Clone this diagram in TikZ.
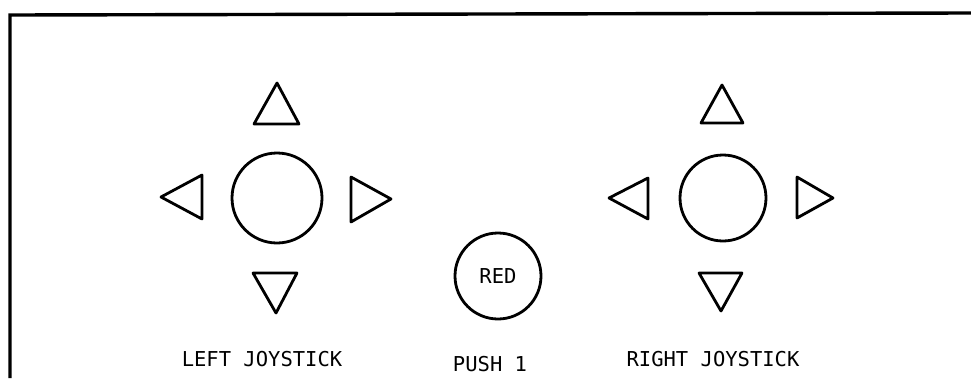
\documentclass[tikz,border=0pt]{standalone}
\usepackage{fontspec}
\setmonofont{DejaVu Sans Mono}
\begin{document}
\begin{tikzpicture}[x=1pt,y=-1pt,
  frame/.style={line width=3.4pt},
  arrowtri/.style={line width=2.8pt, line join=round},
  knob/.style={circle, draw, line width=2.8pt, inner sep=0pt},
  lbl/.style={font=\ttfamily\fontsize{20.5}{20.5}\selectfont, inner sep=0pt}]
\useasboundingbox (0,0) rectangle (971,378);
% frame
\draw[frame] (10,378) -- (10,15) -- (971,13);
% left joystick
\node[knob, minimum size=90pt] (lstick) at (277,198) {};
\draw[arrowtri] (254,124) -- (299,124) -- (277,83) -- cycle;
\draw[arrowtri] (253,273) -- (297,273) -- (276,313) -- cycle;
\draw[arrowtri] (202,175) -- (202,219) -- (161,197) -- cycle;
\draw[arrowtri] (351,177) -- (351,222) -- (391,199) -- cycle;
% right joystick
\node[knob, minimum size=86pt] (rstick) at (723,198) {};
\draw[arrowtri] (701,123) -- (743,123) -- (722,85) -- cycle;
\draw[arrowtri] (699,273) -- (742,273) -- (721,311) -- cycle;
\draw[arrowtri] (648,178) -- (648,219) -- (609,198) -- cycle;
\draw[arrowtri] (797,177) -- (797,218) -- (833,198) -- cycle;
% red button
\node[knob, minimum size=86pt, lbl] (red) at (498,276) {RED};
% labels
\node[lbl] (ll) at (262,359) {LEFT JOYSTICK};
\node[lbl] (pl) at (490,364) {PUSH 1};
\node[lbl] (rl) at (713,359) {RIGHT JOYSTICK};
\end{tikzpicture}
\end{document}
